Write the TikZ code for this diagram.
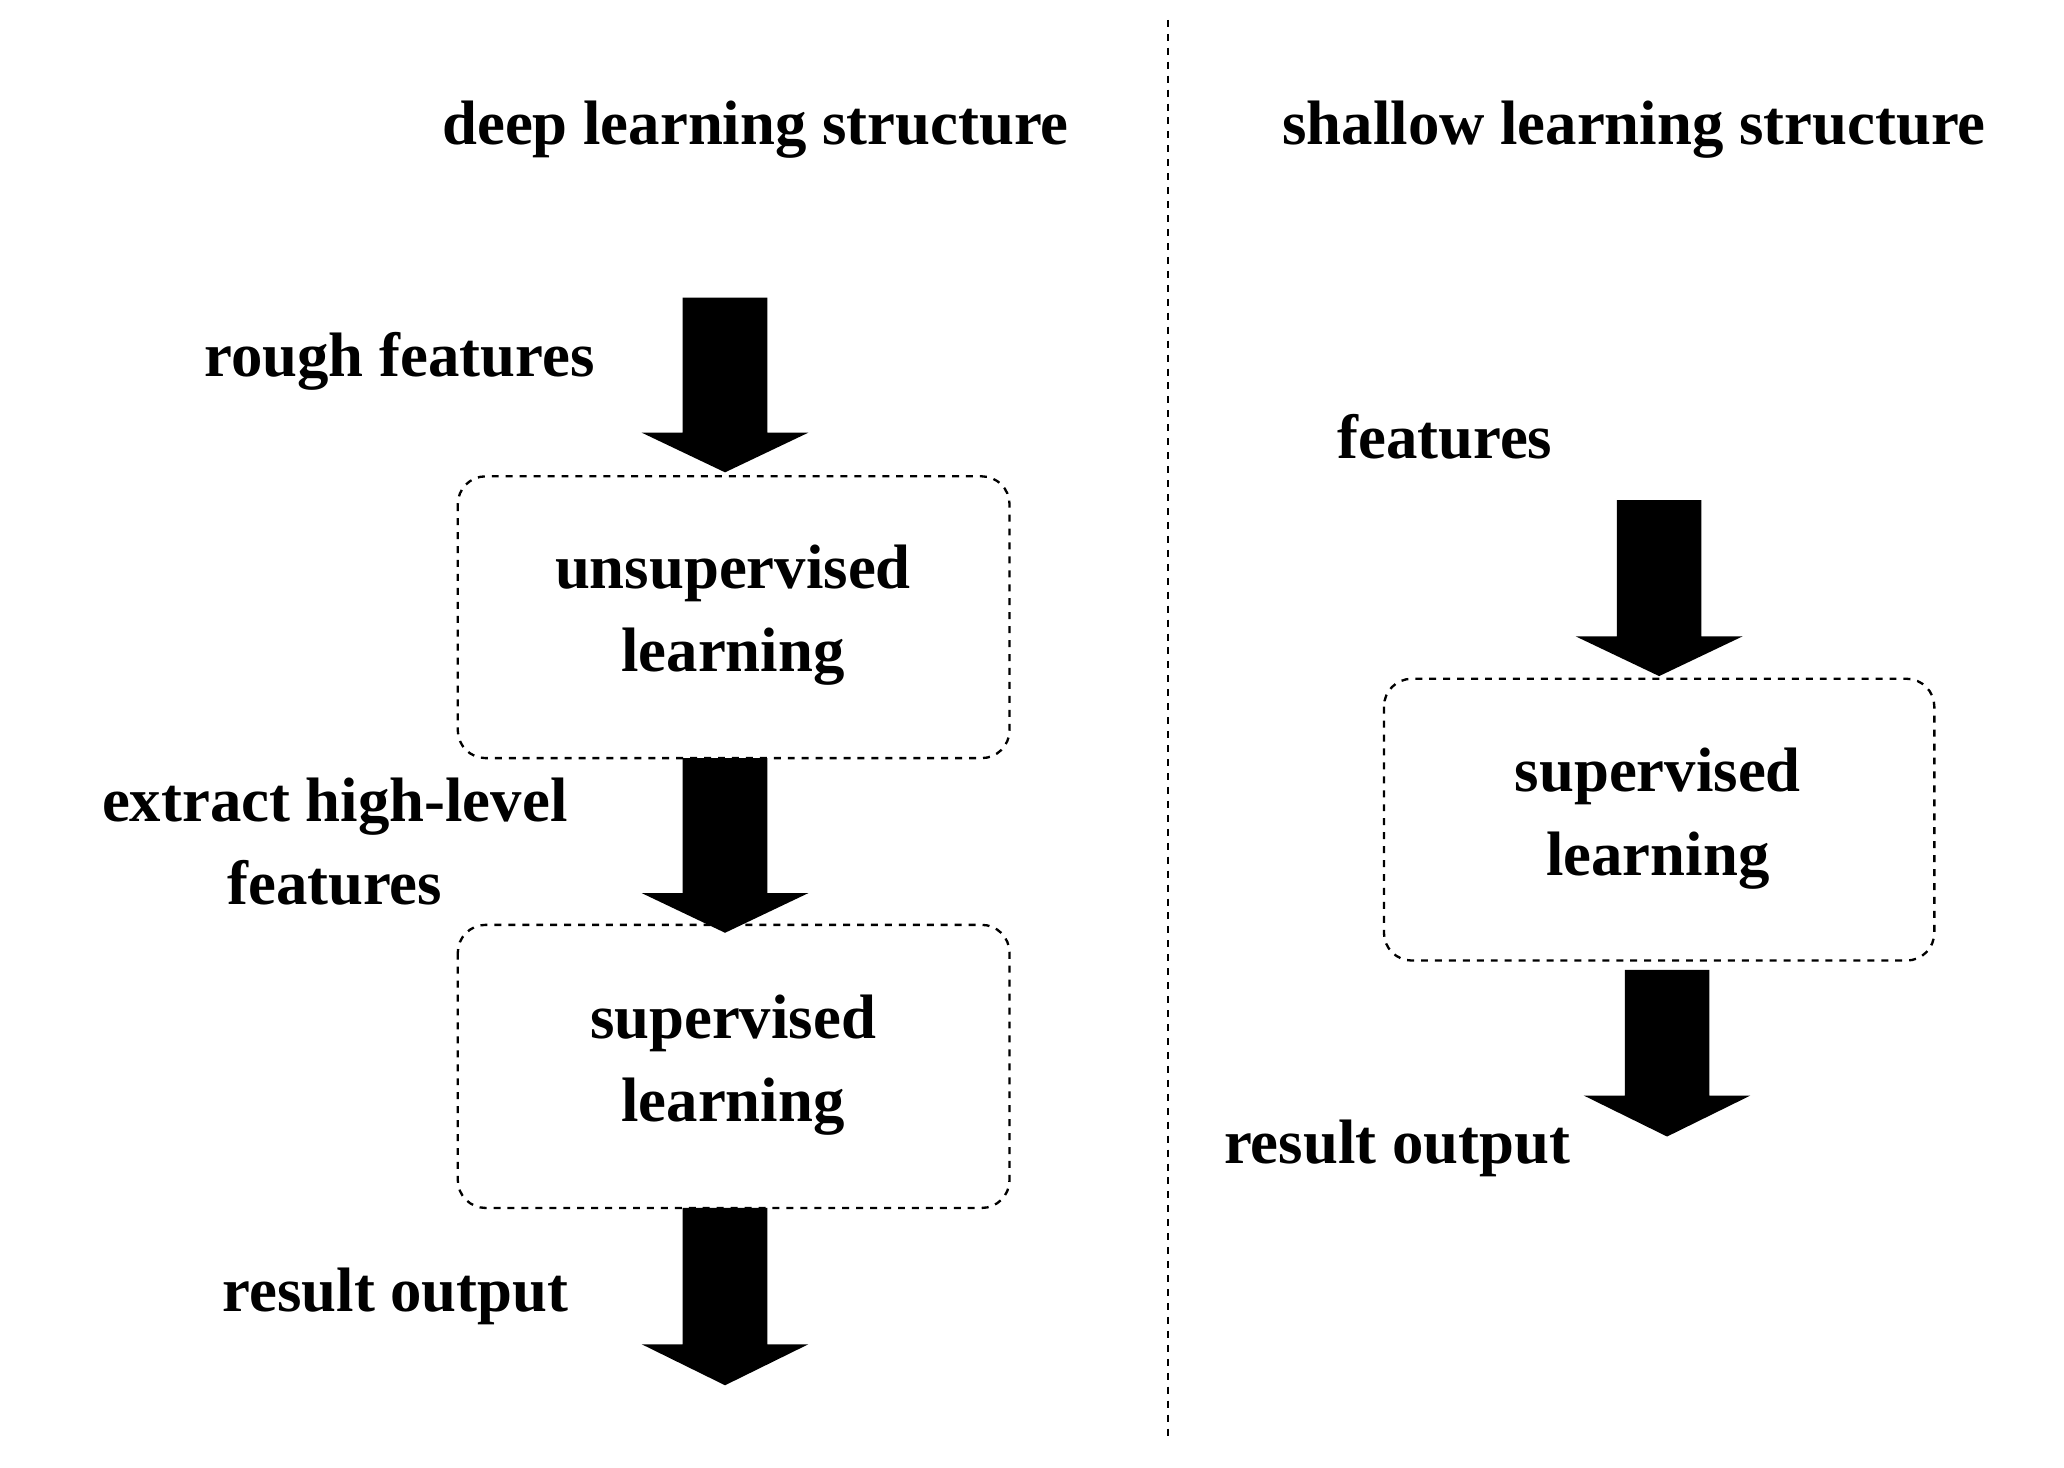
\documentclass[tikz,border=0pt]{standalone}
\usepackage{fontspec}
\setmainfont{Liberation Serif}
\begin{document}
\begin{tikzpicture}[x=0.02cm,y=-0.02cm,
  lbl/.style={font=\fontsize{27}{36}\selectfont\bfseries,align=center,inner sep=0},
  box/.style={draw,dashed,rounded corners=12pt,line width=1pt},
  pics/barrow/.style args={#1/#2}{code={
    \fill (-32,0) -- (32,0) -- (32,#1) -- (63,#1) -- (0,#2) -- (-63,#1) -- (-32,#1) -- cycle;}}]
\useasboundingbox (0,0) rectangle (1560,1109);
\draw[dashed,line width=1pt] (883,15) -- (883,1085);
\node[lbl] (t1) at (571,98) {deep learning structure};
\node[lbl] (t2) at (1235,98) {shallow learning structure};
% left
\pic at (548,225) {barrow=102/132};
\node[lbl] (rf) at (302,273) {rough features};
\draw[box] (346,360) rectangle (763,573);
\node[lbl] (u) at (554,465) {unsupervised\\learning};
\pic at (548,573) {barrow=102/132};
\node[lbl] (eh) at (253,636) {extract high-level\\features};
\draw[box] (346,699) rectangle (763,913);
\node[lbl] (s1) at (554,805) {supervised\\learning};
\pic at (548,913) {barrow=103/134};
\node[lbl] (ro1) at (299,980) {result output};
% right
\node[lbl] (f) at (1092,330) {features};
\pic at (1254,378) {barrow=103/133};
\draw[box] (1046,513) rectangle (1462,726);
\node[lbl] (s2) at (1253,619) {supervised\\learning};
\pic at (1260,733) {barrow=95/126};
\node[lbl] (ro2) at (1056,868) {result output};
\end{tikzpicture}
\end{document}
